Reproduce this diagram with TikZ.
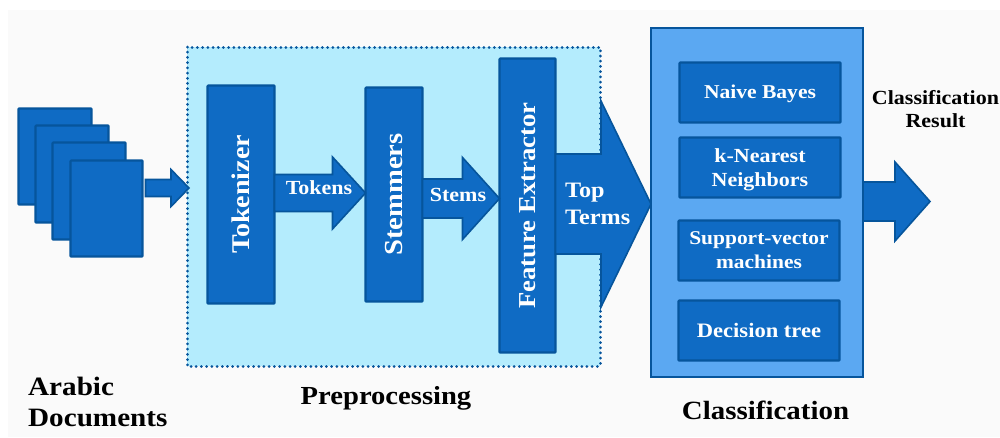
\documentclass[tikz,border=0pt]{standalone}
\usepackage{fontspec}
\setmainfont[FakeStretch=1.1]{Liberation Serif}
\usetikzlibrary{calc}
\definecolor{blockblue}{HTML}{0F6BC4}
\definecolor{edgeblue}{HTML}{06559C}
\definecolor{panelblue}{HTML}{5BA8F2}
\definecolor{paleblue}{HTML}{B4ECFD}
\definecolor{pagegrey}{HTML}{FAFAFA}
\tikzset{
  x=1pt,y=-1pt,
  px/.style={inner sep=0pt,outer sep=0pt,anchor=north west},
  sheet/.style={px,draw=edgeblue,fill=blockblue,line width=2.2pt,rounded corners=0.8pt},
  blockarrow/.style={draw=edgeblue,fill=blockblue,line width=1.6pt,line join=miter},
  whitelabel/.style={text=white,align=center,inner sep=0pt},
  blacklabel/.style={text=black,align=center,inner sep=0pt},
  lab/.style={font=\bfseries\fontsize{#1}{30}\selectfont},
}
% source, target, y of axis, half shaft, half head, head length, start gap, tip overshoot
\newcommand{\blockconn}[8]{%
  \coordinate (s) at ($(#1.east |- 0,#3)+(#7,0)$);
  \coordinate (e) at ($(#2.west |- 0,#3)+(#8,0)$);
  \draw[blockarrow] ($(s)+(0,-#4)$) -- ($(e)+(-#6,-#4)$) -- ($(e)+(-#6,-#5)$) -- (e)
    -- ($(e)+(-#6,#5)$) -- ($(e)+(-#6,#4)$) -- ($(s)+(0,#4)$) -- cycle;
}
\begin{document}
\begin{tikzpicture}
\useasboundingbox (0,0) rectangle (1000,437);
\fill[white] (0,0) rectangle (1000,437);
\fill[pagegrey] (8,10) rectangle (1000,437);
% documents
\node[sheet,minimum width=73pt,minimum height=96pt] (d1) at (18.5,108.5) {};
\node[sheet,minimum width=73pt,minimum height=97pt] (d2) at (35.5,125.5) {};
\node[sheet,minimum width=73pt,minimum height=97pt] (d3) at (52.5,142.5) {};
\node[sheet,minimum width=72pt,minimum height=96pt] (d4) at (70.5,160.5) {};
% preprocessing panel
\node[px,fill=paleblue,minimum width=413pt,minimum height=319pt] (pre) at (187,47) {};
\draw[edgeblue,line width=3pt,line cap=round,dash pattern=on 0.01pt off 5.2pt] (pre.north west) rectangle (pre.south east);
% classifier panel
\node[px,draw=edgeblue,fill=panelblue,line width=2.6pt,minimum width=212pt,minimum height=349pt] (cls) at (651,28) {};
% blocks
\node[sheet,minimum width=67pt,minimum height=218pt] (tok) at (207.5,85.5) {};
\node[sheet,minimum width=57pt,minimum height=214pt] (stem) at (365.5,87.5) {};
\node[sheet,minimum width=56pt,minimum height=294pt] (feat) at (499.5,58.5) {};
\node[whitelabel,rotate=90,lab=25.5] (ltokenizer) at (tok.center) {Tokenizer};
\node[whitelabel,rotate=90,lab=26] (lstemmers) at (stem.center) {Stemmers};
\node[whitelabel,rotate=90,lab=24.3] (lfeature) at (feat.center) {Feature Extractor};
% classifiers
\tikzset{clsbox/.style={sheet,minimum width=161pt,minimum height=60pt}}
\node[clsbox] (nb) at (679.5,62.5) {};
\node[clsbox] (knn) at (679.5,137.5) {};
\node[clsbox] (svm) at (678.5,220.5) {};
\node[clsbox] (dt) at (678.5,300.5) {};
\node[whitelabel,lab=19.6] (lnb) at ($(nb.center)+(0,1)$) {Naive Bayes};
\node[whitelabel,font=\bfseries\fontsize{20}{24}\selectfont] (lknn) at ($(knn.center)+(0,2)$) {k-Nearest\\Neighbors};
\node[whitelabel,font=\bfseries\fontsize{19.5}{24}\selectfont] (lsvm) at (svm.center) {Support-vector\\machines};
\node[whitelabel,lab=20.5] (ldt) at (dt.center) {Decision tree};
% connectors
\coordinate (resultend) at (930,201.5);
\blockconn{d4}{pre}{188}{8.5}{18.5}{18}{3}{2}
\blockconn{tok}{stem}{193}{18.5}{36}{33}{0}{0}
\blockconn{stem}{feat}{198.5}{19.5}{41}{37}{0}{0}
\blockconn{feat}{cls}{204}{50}{103}{50}{0}{0}
\coordinate (s) at (cls.east |- 0,201.5);
\draw[blockarrow] ($(s)+(0,-19.5)$) -- ($(resultend)+(-35,-19.5)$) -- ($(resultend)+(-35,-39.5)$) -- (resultend)
  -- ($(resultend)+(-35,39.5)$) -- ($(resultend)+(-35,19.5)$) -- ($(s)+(0,19.5)$) -- cycle;
% arrow labels
\node[whitelabel,lab=20] (ltok) at (319,188) {Tokens};
\node[whitelabel,lab=20] (lstem) at (458,195) {Stems};
\node[whitelabel,anchor=west,align=left,font=\bfseries\fontsize{22}{27}\selectfont] (ltop) at (565,204) {Top\\Terms};
% captions
\node[blacklabel,font=\bfseries\fontsize{20}{23.5}\selectfont] (lres) at (935.5,109) {Classification\\Result};
\node[blacklabel,anchor=west,align=left,font=\bfseries\fontsize{26.5}{31}\selectfont] (ldoc) at (28,402) {Arabic\\Documents};
\node[blacklabel,lab=26] (lpre) at (386,398) {Preprocessing};
\node[blacklabel,lab=26.3] (lcls) at (765.5,410) {Classification};
\end{tikzpicture}
\end{document}
